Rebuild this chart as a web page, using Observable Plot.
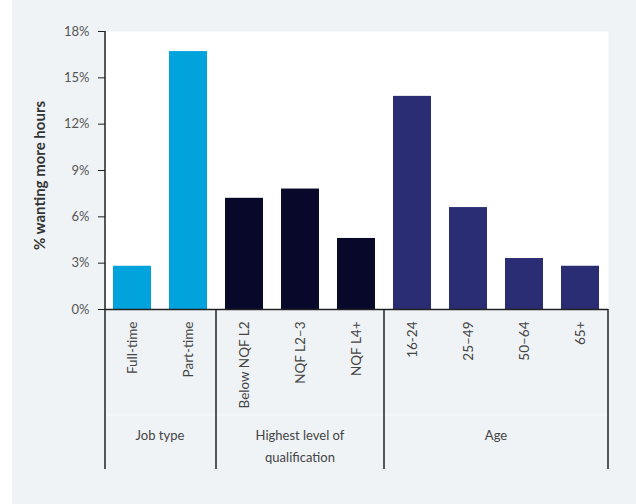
<!DOCTYPE html>
<html><head><meta charset="utf-8">
<script src="https://cdn.jsdelivr.net/npm/d3@7"></script>
<script src="https://cdn.jsdelivr.net/npm/@observablehq/plot@0.6"></script>
<style>
html,body{margin:0;padding:0;background:#fff;}
#chart svg{display:block;}
</style></head><body><div id="chart"></div>
<script>
const categories = ["Full-time","Part-time","Below NQF L2","NQF L2–3","NQF L4+","16-24","25–49","50–64","65+"];
const groupOf = ["Job type","Job type","Highest level of qualification","Highest level of qualification","Highest level of qualification","Age","Age","Age","Age"];
const values = [2.8,16.7,7.2,7.8,4.6,13.8,6.6,3.3,2.8];
const groupNames = ["Job type","Highest level of qualification","Age"];
const groupLabelLines = [["Job type"],["Highest level of","qualification"],["Age"]];
const yTicks = [0,3,6,9,12,15,18];
const yTitle = "% wanting more hours";
const palette = ["#00a3dc","#07082a","#2a2d74"];

const data = categories.map((c,i)=>({category:c, group:groupOf[i], value:values[i]}));

function groupDividers(index, scales) {
  const x = scales.x, y = scales.y;
  const g = d3.create("svg:g");
  const bw = x.bandwidth();
  const step = x.step ? x.step() : bw;
  const half = (step - bw) / 2;
  const [r0, r1] = x.range();
  const y0 = y(0), yEnd = y0 + 160;
  g.append("line").attr("x1", r0).attr("x2", r1).attr("y1", y0 + 106).attr("y2", y0 + 106)
    .attr("stroke", "#ffffff").attr("stroke-opacity", 0.8).attr("stroke-width", 1);
  g.append("line").attr("x1", r0).attr("x2", r0).attr("y1", y(18)).attr("y2", yEnd)
    .attr("stroke", "#222").attr("stroke-width", 1.5);
  g.append("line").attr("x1", r1).attr("x2", r1).attr("y1", y0).attr("y2", yEnd)
    .attr("stroke", "#222").attr("stroke-width", 1.5);
  groupNames.forEach((name, gi) => {
    const cats = categories.filter((c, i) => groupOf[i] === name);
    const first = cats[0], last = cats[cats.length - 1];
    if (gi > 0) {
      const xs = x(first) - half;
      g.append("line").attr("x1", xs).attr("x2", xs).attr("y1", y0).attr("y2", yEnd)
        .attr("stroke", "#222").attr("stroke-width", 1.5);
    }
    const cx = (x(first) + x(last) + bw) / 2;
    const t = g.append("text").attr("x", cx).attr("y", y0 + 128)
      .attr("text-anchor", "middle").attr("dominant-baseline", "middle")
      .attr("fill", "#444").attr("font-size", 13);
    groupLabelLines[gi].forEach((ln, li) => {
      t.append("tspan").attr("x", cx).attr("dy", li === 0 ? 0 : 22).text(ln);
    });
  });
  return g.node();
}

const chart = Plot.plot({
  width: 636,
  height: 504,
  marginTop: 31,
  marginBottom: 195,
  marginLeft: 105,
  marginRight: 28,
  style: {
    fontFamily: "Lato, 'Open Sans', sans-serif",
    fontSize: "13px",
    color: "#444",
    background: "linear-gradient(to right, #ffffff 12px, #eff3f6 12px)"
  },
  x: {domain: categories, paddingInner: 0.32, paddingOuter: 0.15, label: null},
  y: {domain: [0, 18], label: null},
  color: {domain: groupNames, range: palette},
  marks: [
    Plot.frame({fill: "white", stroke: null}),
    Plot.barY(data, {x: "category", y: "value", fill: "group"}),
    Plot.ruleY([0], {stroke: "#222", strokeWidth: 1.5}),
    Plot.axisY({ticks: yTicks, tickFormat: d => d + "%", tickSize: 7, tickPadding: 9, label: null, stroke: "#222", fill: "#555", fontSize: 13}),
    Plot.axisX({tickRotate: -90, tickSize: 0, tickPadding: 12, label: null, fill: "#444", fontSize: 13.5}),
    Plot.text([yTitle], {frameAnchor: "left", rotate: -90, textAnchor: "middle", dx: -65, dy: 5, fontWeight: "bold", fontSize: 15, fill: "#333"}),
    groupDividers
  ]
});
document.getElementById("chart").appendChild(chart);
</script></body></html>
